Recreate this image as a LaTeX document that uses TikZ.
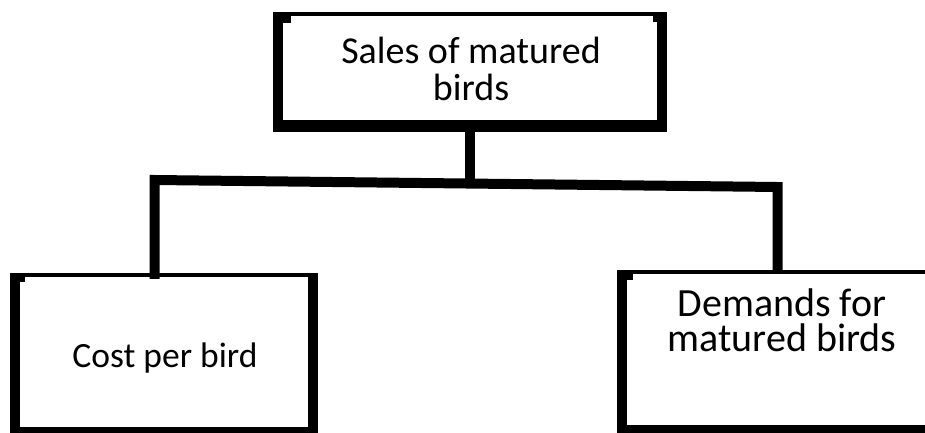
\documentclass[tikz,border=0pt]{standalone}
\usepackage{fontspec}
\setmainfont{Carlito}
\begin{document}
\begin{tikzpicture}[x=1pt,y=1pt,
  box/.style={fill=black, draw=none, inner sep=0pt, minimum width=#1},
  conn/.style={line width=10pt, line join=miter},
  lbl/.style={inner sep=0pt, align=center, anchor=base}]
\useasboundingbox (0,0) rectangle (925,432);
\clip (0,0) rectangle (925,432);
\fill[white] (0,0) rectangle (925,432);
% boxes (outer black, inner white)
\node[box=394pt, minimum height=120pt] (topbox) at (470,360) {};
\fill[white] ([shift={(10,-4)}]topbox.north west) rectangle ([shift={(-10,12)}]topbox.south east);
\fill[black] ([shift={(10,-4)}]topbox.north west) rectangle ++(8,-7);
\fill[black] ([shift={(-10,-4)}]topbox.north east) rectangle ++(-4,-6);
\node[box=308pt, minimum height=164pt] (leftbox) at (164,77) {};
\fill[white] ([shift={(10,-4)}]leftbox.north west) rectangle ([shift={(-10,10)}]leftbox.south east);
\fill[black] ([shift={(10,-4)}]leftbox.north west) rectangle ++(5,-5);
\node[box=340pt, minimum height=165pt] (rightbox) at (787,79.5) {};
\fill[white] ([shift={(10,-4)}]rightbox.north west) rectangle ([shift={(-10,10)}]rightbox.south east);
\fill[black] ([shift={(10,-4)}]rightbox.north west) rectangle ++(6,-6);
% connectors
\coordinate (jl) at (154.5,252);
\coordinate (jm) at (470,248.5);
\coordinate (jr) at (777.5,245);
\draw[conn] (topbox.south -| jm) -- (jm);
\draw[conn] ([yshift=-6pt]leftbox.north -| jl) -- (jl) -- (jr) -- ([yshift=-4pt]rightbox.north -| jr);
% labels
\node[lbl, font=\fontsize{38}{36.7}\selectfont] (toptext) at (471,332) {Sales of matured\\birds};
\node[lbl, font=\fontsize{35.5}{36}\selectfont] (lefttext) at (165,65) {Cost per bird};
\node[lbl, font=\fontsize{40}{35}\selectfont] (righttext) at (782,80.3) {Demands for\\matured birds};
\end{tikzpicture}
\end{document}
